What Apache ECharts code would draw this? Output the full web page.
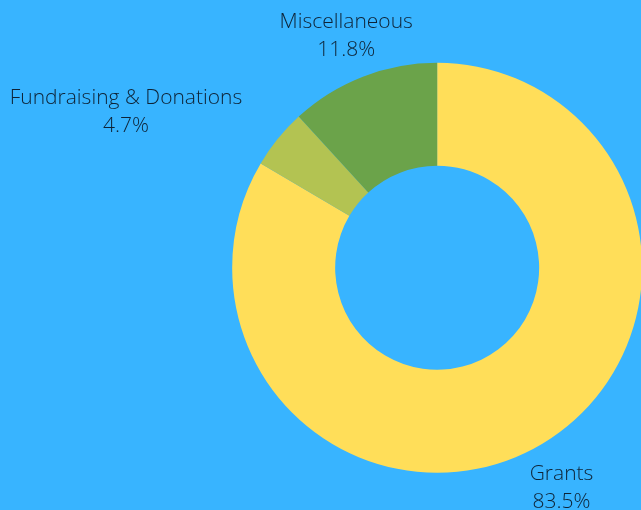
<!DOCTYPE html>
<html>
<head>
<meta charset="utf-8">
<script src="https://cdn.jsdelivr.net/npm/echarts@6/dist/echarts.min.js"></script>
<style>
html,body{margin:0;padding:0;background:#38B4FF;}
#c{width:641px;height:510px;}
</style>
</head>
<body>
<div id="c"></div>
<script>
const categories = ['Grants', 'Fundraising & Donations', 'Miscellaneous'];
const values = [83.5, 4.7, 11.8];
const colors = ['#FFDE59', '#B3C352', '#6BA34A'];
const centeredOnAnchor = ['Grants', 'Miscellaneous'];

const chart = echarts.init(document.getElementById('c'));
chart.setOption({
  backgroundColor: '#38B4FF',
  animation: false,
  series: [{
    type: 'pie',
    center: ['68.2%', '52.5%'],
    radius: [102, 205],
    startAngle: 90,
    clockwise: true,
    avoidLabelOverlap: false,
    data: categories.map((c, i) => ({ name: c, value: values[i], itemStyle: { color: colors[i] } })),
    label: {
      show: true,
      position: 'outside',
      distanceToLabelLine: 0,
      formatter: p => p.name + '\n' + p.value.toFixed(1) + '%',
      color: '#0E2336',
      fontFamily: 'Open Sans',
      fontWeight: 300,
      fontSize: 21,
      lineHeight: 28
    },
    labelLine: { show: false, length: 46, length2: 0 },
    labelLayout: function (params) {
      const name = categories[params.dataIndex];
      const r = params.labelRect;
      let x;
      if (centeredOnAnchor.indexOf(name) >= 0) {
        x = params.align === 'right' ? r.x + r.width : r.x;
      } else {
        x = r.x + r.width / 2;
      }
      return { x: x, y: r.y + r.height / 2 + 2, align: 'center', verticalAlign: 'middle' };
    }
  }]
});
</script>
</body>
</html>
